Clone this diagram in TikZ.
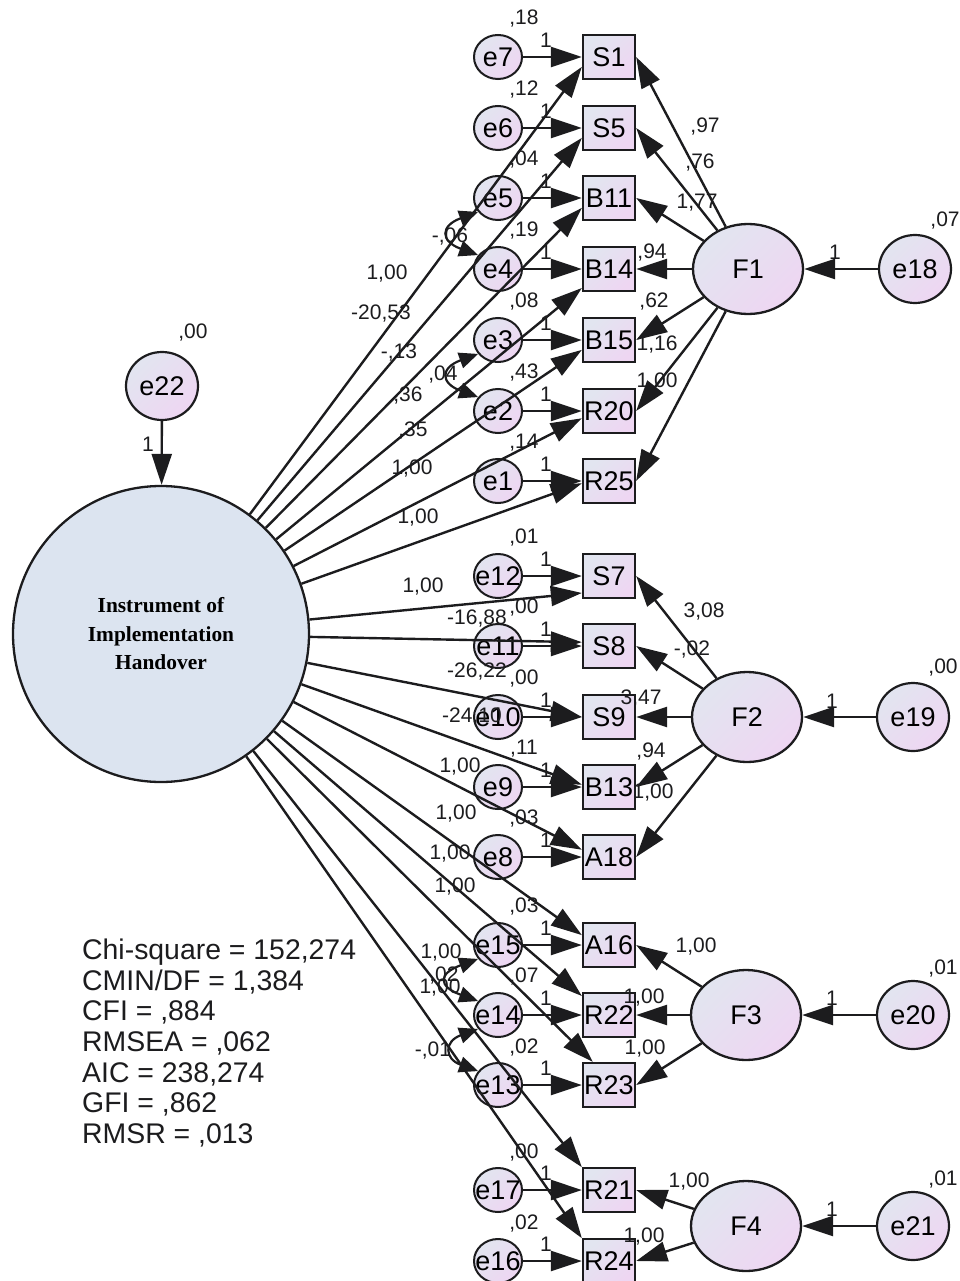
\documentclass[tikz,border=0pt]{standalone}
\usepackage{fontspec}
\setmainfont{Liberation Sans}
\newfontfamily\titlefont{Liberation Serif}
\usetikzlibrary{
  arrows.meta,
  shapes.geometric
}
\definecolor{LineBlack}{RGB}{28,28,30}
\definecolor{BoxTop}{RGB}{226,229,240}
\definecolor{BoxBottom}{RGB}{238,214,242}
\definecolor{HandoverBlue}{RGB}{220,228,240}
\newcommand{\nodefont}{\fontsize{27}{30}\selectfont}
\newcommand{\lblfont}{\fontsize{21}{23}\selectfont}
\newcommand{\bigfont}{\titlefont\bfseries\fontsize{21.4}{28.5}\selectfont}
\newcommand{\fitfont}{\fontsize{28.4}{30.6}\selectfont}
\tikzset{
  obsbox/.style={rectangle,draw=LineBlack,line width=2.3pt,top color=BoxTop,bottom color=BoxBottom,shading angle=45,minimum width=52pt,minimum height=44pt,inner sep=0pt,font=\nodefont},
  errnode/.style={ellipse,draw=LineBlack,line width=2pt,top color=BoxTop,bottom color=BoxBottom,shading angle=45,minimum width=48pt,minimum height=44pt,inner sep=0pt,font=\nodefont},
  latentnode/.style={ellipse,draw=LineBlack,line width=2.3pt,top color=BoxTop,bottom color=BoxBottom,shading angle=45,minimum width=110pt,minimum height=90pt,inner sep=0pt,font=\nodefont},
  disturbnode/.style={ellipse,draw=LineBlack,line width=2.2pt,top color=BoxTop,bottom color=BoxBottom,shading angle=45,minimum width=72pt,minimum height=68pt,inner sep=0pt,font=\nodefont},
  handover/.style={circle,draw=LineBlack,line width=2.3pt,fill=HandoverBlue,minimum size=296pt,inner sep=0pt,align=center,font=\bigfont},
  regarrow/.style={-{Triangle[length=31pt,width=20pt]},line width=2.4pt,draw=LineBlack},
  covarrow/.style={{Triangle[length=19pt,width=16pt]}-{Triangle[length=19pt,width=16pt]},line width=2.2pt,draw=LineBlack},
  estlbl/.style={font=\lblfont,inner sep=0pt,text=LineBlack},
  fitstats/.style={font=\fitfont,inner sep=0pt,align=left,text=LineBlack}
}

\begin{document}
\begin{tikzpicture}[x=1pt,y=1pt]
\useasboundingbox (0,0) rectangle (960,-1281);
% second order factor
\node[handover] (iih) at (161,-634) {Instrument of\\Implementation\\Handover};
\node[disturbnode] (e22) at (162,-386) {e22};
% indicators with their errors
\foreach \obs/\err/\ypos in {S1/e7/57, S5/e6/128, B11/e5/198, B14/e4/269, B15/e3/340, R20/e2/411, R25/e1/481,
  S7/e12/576, S8/e11/646, S9/e10/717, B13/e9/787, A18/e8/857, A16/e15/945, R22/e14/1015, R23/e13/1085,
  R21/e17/1190, R24/e16/1261}{
  \node[obsbox] (\obs) at (609,-\ypos) {\obs};
  \node[errnode] (\err) at (498,-\ypos) {\makebox[0pt]{\err}};
}
% first order factors
\node[latentnode] (F1) at (748,-269) {F1};
\node[latentnode] (F2) at (747,-717) {F2};
\node[latentnode] (F3) at (746,-1015) {F3};
\node[latentnode] (F4) at (746,-1226) {F4};
\node[disturbnode] (e18) at (915,-269) {e18};
\node[disturbnode] (e19) at (913,-717) {e19};
\node[disturbnode] (e20) at (913,-1015) {e20};
\node[disturbnode] (e21) at (913,-1226) {e21};

\draw[regarrow] (e22) -- (iih);
\foreach \fac/\dist in {F1/e18, F2/e19, F3/e20, F4/e21}
  \draw[regarrow] (\dist) -- (\fac);
\foreach \obs in {S1,S5,B11,B14,B15,R20,R25}
  \draw[regarrow] (F1) -- (\obs.east);
\foreach \obs in {S7,S8,S9,B13,A18}
  \draw[regarrow] (F2) -- (\obs.east);
\foreach \obs in {A16,R22,R23}
  \draw[regarrow] (F3) -- (\obs.east);
\foreach \obs in {R21,R24}
  \draw[regarrow] (F4) -- (\obs.east);

% error paths, paths from the second order factor, variances
\foreach \obs/\err/\ypos/\var/\ang in {S1/e7/57/{,18}/200, S5/e6/128/{,12}/200, B11/e5/198/{,04}/200,
  B14/e4/269/{,19}/215, B15/e3/340/{,08}/200, R20/e2/411/{,43}/195, R25/e1/481/{,14}/185,
  S7/e12/576/{,01}/212, S8/e11/646/{,00}/172, S9/e10/717/{,00}/180, B13/e9/787/{,11}/175,
  A18/e8/857/{,03}/165, A16/e15/945/{,03}/160, R22/e14/1015/{,07}/145, R23/e13/1085/{,02}/125,
  R21/e17/1190/{,00}/140, R24/e16/1261/{,02}/140}{
  \draw[regarrow] (\err) -- (\obs);
  \draw[regarrow] (iih) -- (\obs.\ang);
  \node[estlbl] (one\err) at (546,-\ypos+17) {1};
  \node[estlbl] (var\err) at (524,-\ypos+38) {\var};
}

% correlated errors
\draw[covarrow] (e5.215) to[out=200,in=160,looseness=2.4] (e4.145);
\draw[covarrow] (e3.215) to[out=200,in=160,looseness=2.4] (e2.145);
\draw[covarrow] (e15.215) to[out=200,in=160,looseness=2.6] (e14.145);
\draw[covarrow] (e14.215) to[out=200,in=160,looseness=2.2] (e13.145);

% estimates
\foreach \lx/\ly/\txt [count=\k] in {387/274/{1,00}, 381/314/{-20,53}, 399/353/{-,13}, 408/396/{,36},
  413/431/{,35}, 412/469/{1,00}, 418/518/{1,00}, 423/587/{1,00}, 477/619/{-16,88}, 477/672/{-26,22},
  472/717/{-24,10}, 460/767/{1,00}, 456/814/{1,00}, 450/854/{1,00}, 455/887/{1,00}, 441/952/{1,00},
  440/987/{1,00}}
  \node[estlbl] (w\k) at (\lx,-\ly) {\txt};
\foreach \lx/\ly/\txt [count=\k] in {705/127/{,97}, 700/163/{,76}, 697/203/{1,77}, 652/253/{,94},
  654/302/{,62}, 657/345/{1,16}, 657/382/{1,00}, 704/612/{3,08}, 692/650/{-,02}, 641/699/{3,47},
  651/752/{,94}, 653/793/{1,00}, 696/947/{1,00}, 644/997/{1,00}, 645/1048/{1,00}, 689/1181/{1,00},
  644/1236/{1,00}}
  \node[estlbl] (l\k) at (\lx,-\ly) {\txt};
\foreach \lx/\ly/\txt [count=\k] in {450/237/{-,06}, 443/375/{,04}, 444/975/{,02}, 433/1050/{-,01}}
  \node[estlbl] (c\k) at (\lx,-\ly) {\txt};
\foreach \lx/\ly/\txt [count=\k] in {835/252/1, 832/701/1, 832/998/1, 832/1209/1, 148/444/1,
  945/221/{,07}, 943/668/{,00}, 943/968/{,01}, 943/1179/{,01}, 193/333/{,00}}
  \node[estlbl] (d\k) at (\lx,-\ly) {\txt};

\node[fitstats,anchor=north west] (fit) at (82,-939) {Chi-square = 152,274\\CMIN/DF = 1,384\\CFI = ,884\\RMSEA = ,062\\AIC = 238,274\\GFI = ,862\\RMSR = ,013};
\end{tikzpicture}
\end{document}
